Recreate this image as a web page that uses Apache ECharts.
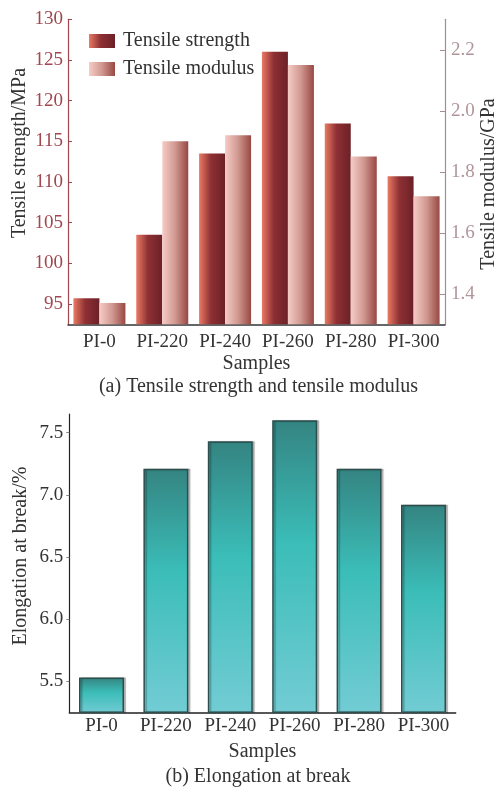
<!DOCTYPE html>
<html>
<head>
<meta charset="utf-8">
<script src="https://cdn.jsdelivr.net/npm/echarts@6/dist/echarts.min.js"></script>
<style>
  html, body { margin: 0; padding: 0; background: #fff; }
  #chart { width: 498px; height: 787px; }
</style>
</head>
<body>
<div id="chart"></div>
<script>
const SERIF = "'Liberation Serif', 'Times New Roman', serif";

const samples = ["PI-0", "PI-220", "PI-240", "PI-260", "PI-280", "PI-300"];
const tensileStrength = [95.7, 103.5, 113.5, 126.0, 117.2, 110.7];
const tensileModulus = [1.37, 1.90, 1.92, 2.15, 1.85, 1.72];
const elongation = [5.53, 7.21, 7.43, 7.60, 7.21, 6.92];

const strengthTicks = [95, 100, 105, 110, 115, 120, 125, 130];
const modulusTicks = [1.4, 1.6, 1.8, 2.0, 2.2];
const elongTicks = [5.5, 6.0, 6.5, 7.0, 7.5];

const RED_AXIS = "#a0474f";
const MAUVE_AXIS = "#a58c92";
const TEXT = "#333";

const grad = echarts.graphic.LinearGradient;
const strengthFill = new grad(0, 0, 1, 0, [
  { offset: 0, color: "#ea7a64" },
  { offset: 0.45, color: "#8e3034" },
  { offset: 1, color: "#6c2127" },
]);
const modulusFill = new grad(0, 0, 1, 0, [
  { offset: 0, color: "#f6ccc6" },
  { offset: 0.5, color: "#d09890" },
  { offset: 1, color: "#984843" },
]);
const elongFill = new grad(0, 0, 0, 1, [
  { offset: 0, color: "#348481" },
  { offset: 0.42, color: "#3bbdb8" },
  { offset: 1, color: "#72ccd4" },
]);

const chart = echarts.init(document.getElementById("chart"), null, { renderer: "canvas" });

chart.setOption({
  animation: false,
  textStyle: { fontFamily: SERIF },
  grid: [
    { left: 68, top: 19.3, width: 377, height: 305 },
    { left: 69.3, top: 414, width: 386.4, height: 298.3 },
  ],
  legend: {
    orient: "vertical",
    left: 89,
    top: 31,
    padding: 0,
    itemWidth: 26,
    itemHeight: 14,
    itemGap: 8,
    icon: "rect",
    textStyle: { fontFamily: SERIF, fontSize: 20, color: TEXT, padding: [0, 0, 0, 3] },
    data: ["Tensile strength", "Tensile modulus"],
  },
  xAxis: [
    {
      type: "category",
      gridIndex: 0,
      data: samples,
      axisLine: { lineStyle: { color: "#333", width: 1.5 } },
      axisTick: { show: false },
      axisLabel: { interval: 0, fontFamily: SERIF, fontSize: 19, color: TEXT, margin: 8 },
      name: "Samples",
      nameLocation: "middle",
      nameGap: 29,
      nameTextStyle: { fontFamily: SERIF, fontSize: 20, color: TEXT },
    },
    {
      type: "category",
      gridIndex: 1,
      data: samples,
      axisLine: { lineStyle: { color: "#222", width: 1.5 } },
      axisTick: { show: true, inside: true, alignWithLabel: true, interval: 0, length: 5, lineStyle: { color: "#777" } },
      axisLabel: { interval: 0, fontFamily: SERIF, fontSize: 19, color: TEXT, margin: 4 },
      name: "Samples",
      nameLocation: "middle",
      nameGap: 29,
      nameTextStyle: { fontFamily: SERIF, fontSize: 20, color: TEXT },
    },
  ],
  yAxis: [
    {
      type: "value",
      gridIndex: 0,
      min: 92.5,
      max: 130,
      splitLine: { show: false },
      axisLine: { show: true, lineStyle: { color: RED_AXIS, width: 1.2 } },
      axisTick: { show: true, inside: true, length: 4, customValues: strengthTicks, lineStyle: { color: RED_AXIS } },
      axisLabel: { fontFamily: SERIF, fontSize: 19, color: RED_AXIS, margin: 5, customValues: strengthTicks },
    },
    {
      type: "value",
      gridIndex: 0,
      position: "right",
      min: 1.3,
      max: 2.3,
      splitLine: { show: false },
      axisLine: { show: true, lineStyle: { color: MAUVE_AXIS, width: 1.2 } },
      axisTick: { show: true, inside: true, length: 5, customValues: modulusTicks, lineStyle: { color: MAUVE_AXIS } },
      axisLabel: {
        fontFamily: SERIF, fontSize: 19, color: "#b0959a", margin: 6,
        customValues: modulusTicks,
        formatter: (v) => v.toFixed(1),
      },
    },
    {
      type: "value",
      gridIndex: 1,
      min: 5.25,
      max: 7.65,
      splitLine: { show: false },
      axisLine: { show: true, lineStyle: { color: "#222", width: 1.2 } },
      axisTick: { show: true, length: 3, customValues: elongTicks, lineStyle: { color: "#888" } },
      axisLabel: {
        fontFamily: SERIF, fontSize: 19, color: TEXT, margin: 6,
        customValues: elongTicks,
        formatter: (v) => v.toFixed(1),
      },
    },
  ],
  graphic: [
    {
      type: "text", x: 20, y: 153, rotation: Math.PI / 2,
      style: { text: "Tensile strength/MPa", font: "20px " + SERIF, fill: TEXT, align: "center", verticalAlign: "middle" },
    },
    {
      type: "text", x: 489, y: 184, rotation: Math.PI / 2,
      style: { text: "Tensile modulus/GPa", font: "20px " + SERIF, fill: TEXT, align: "center", verticalAlign: "middle" },
    },
    {
      type: "text", x: 21, y: 556, rotation: Math.PI / 2,
      style: { text: "Elongation at break/%", font: "20px " + SERIF, fill: TEXT, align: "center", verticalAlign: "middle" },
    },
    {
      type: "text", x: 258.5, y: 387,
      style: { text: "(a) Tensile strength and tensile modulus", font: "20px " + SERIF, fill: TEXT, align: "center", verticalAlign: "middle" },
    },
    {
      type: "text", x: 258, y: 777,
      style: { text: "(b) Elongation at break", font: "20px " + SERIF, fill: TEXT, align: "center", verticalAlign: "middle" },
    },
  ],
  series: [
    {
      name: "Tensile strength",
      type: "bar",
      xAxisIndex: 0,
      yAxisIndex: 0,
      data: tensileStrength,
      barWidth: 26,
      barGap: "0%",
      itemStyle: { color: strengthFill },
    },
    {
      name: "Tensile modulus",
      type: "bar",
      xAxisIndex: 0,
      yAxisIndex: 1,
      data: tensileModulus,
      barWidth: 26,
      barGap: "0%",
      itemStyle: { color: modulusFill },
    },
    {
      name: "Elongation at break",
      type: "bar",
      xAxisIndex: 1,
      yAxisIndex: 2,
      data: elongation,
      barWidth: 45,
      itemStyle: {
        color: elongFill,
        borderColor: "#2c4e4d",
        borderWidth: 1.5,
        shadowColor: "rgba(0,0,0,0.25)",
        shadowOffsetX: 2,
        shadowBlur: 1,
      },
    },
  ],
});
</script>
</body>
</html>
